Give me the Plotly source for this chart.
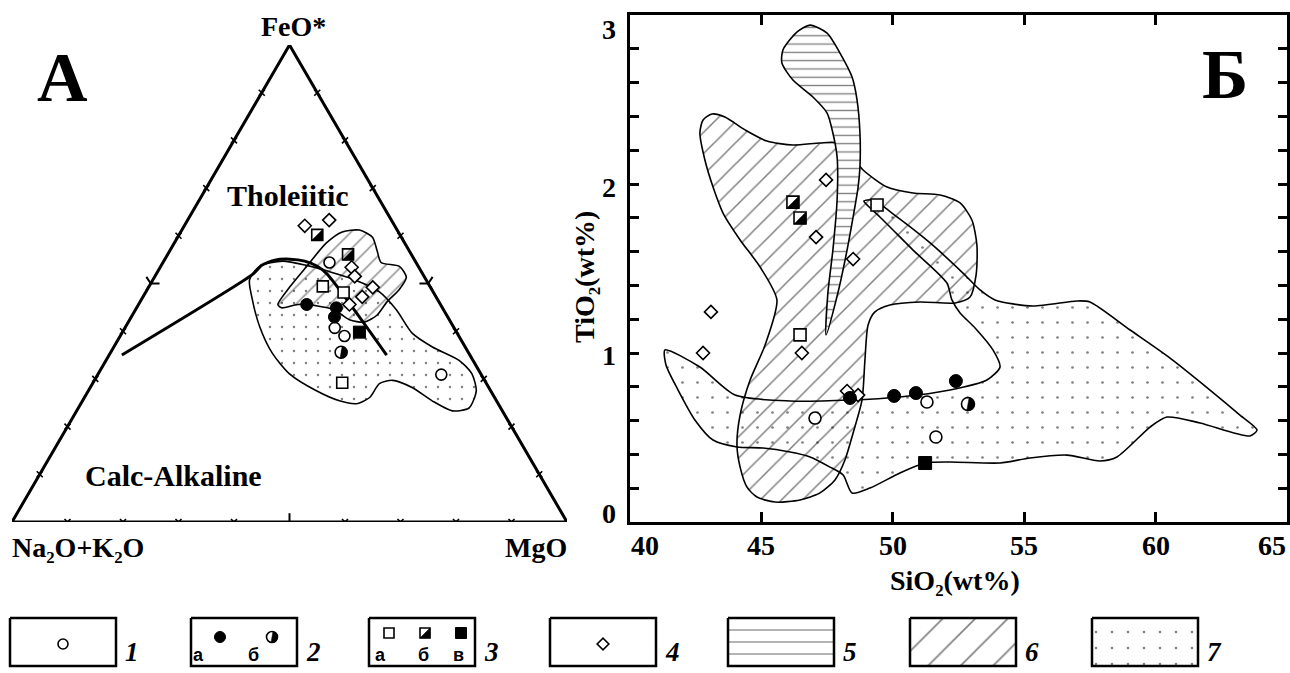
import math
import plotly.graph_objects as go

W, H = 1290, 673

# ============================ DATA ============================
# Panel A - AFM diagram, proportions (%) of FeO*, Na2O+K2O, MgO
afm1_feo = [54.4, 40.7, 39.0, 30.9]          # 1  open circles
afm1_alk = [15.6, 21.5, 20.6, 7.2]
afm1_mgo = [30.0, 37.8, 40.4, 61.9]
afm2a_feo = [45.6, 44.9, 43.0]               # 2a filled circles
afm2a_alk = [24.1, 19.1, 20.4]
afm2a_mgo = [30.3, 36.0, 36.6]
afm2b_feo = [35.6]                           # 2b half-filled circle
afm2b_alk = [22.9]
afm2b_mgo = [41.5]
afm3a_feo = [49.4, 48.1, 29.2]               # 3a open squares
afm3a_alk = [19.3, 16.2, 25.9]
afm3a_mgo = [31.3, 35.7, 44.9]
afm3b_feo = [60.2, 56.1]                     # 3b half-filled squares
afm3b_alk = [14.9, 11.4]
afm3b_mgo = [24.9, 32.5]
afm3v_feo = [39.8]                           # 3v filled square
afm3v_alk = [17.5]
afm3v_mgo = [42.7]
afm4_feo = [62.1, 63.3, 53.4, 51.5, 49.2, 47.2, 45.6]   # 4 diamonds
afm4_alk = [16.2, 11.2, 12.1, 12.5, 10.4, 13.3, 16.4]
afm4_mgo = [21.7, 25.5, 34.5, 36.0, 40.4, 39.5, 38.0]

# Tholeiitic / Calc-alkaline boundary
afm_bnd_feo = [35.0, 51.9, 53.8, 54.9, 55.1, 54.7, 53.6, 51.9, 35.0]
afm_bnd_alk = [62.7, 30.7, 28.1, 25.2, 22.4, 19.9, 18.2, 17.2, 15.0]
afm_bnd_mgo = [2.3, 17.4, 18.1, 19.9, 22.5, 25.4, 28.2, 30.9, 50.0]

# field 7 (dots) in AFM
afm7_feo = [50.8, 53.6, 54.7, 53.8, 52.5, 50.8, 48.3, 44.5, 39.6, 36.7, 33.9, 31.1, 27.5, 23.9,
            23.3, 25.4, 28.2, 29.7, 29.0, 26.1, 24.8, 25.4, 27.5, 31.1, 35.4, 40.9, 47.2]
afm7_alk = [31.8, 28.6, 23.9, 20.0, 16.6, 12.9, 9.7, 8.5, 8.1, 5.9, 2.5, 1.6, 2.6, 5.7,
            9.0, 11.6, 13.8, 16.6, 19.3, 22.5, 25.5, 28.3, 31.4, 34.5, 35.4, 34.9, 33.2]
afm7_mgo = [17.4, 17.8, 21.4, 26.2, 30.9, 36.3, 42.0, 47.0, 52.3, 57.4, 63.6, 67.3, 69.9, 70.4,
            67.7, 63.0, 58.0, 53.7, 51.7, 51.4, 49.7, 46.3, 41.1, 34.4, 29.2, 24.2, 19.6]
# field 6 (hatch) in AFM
afm6_feo = [45.6, 49.2, 53.6, 58.5, 60.8, 61.2, 59.7, 56.8, 54.4, 53.6, 51.3, 48.7, 46.2, 43.4,
            41.9, 42.4, 44.5, 45.3, 45.6, 44.9]
afm6_alk = [29.3, 25.4, 20.1, 14.1, 10.1, 6.8, 5.2, 5.8, 6.3, 3.4, 3.3, 5.9, 9.3, 12.5,
            15.6, 18.0, 19.7, 22.3, 25.7, 29.0]
afm6_mgo = [25.1, 25.4, 26.3, 27.4, 29.1, 32.0, 35.1, 37.4, 39.3, 43.0, 45.4, 45.4, 44.5, 44.1,
            42.5, 39.6, 35.8, 32.4, 28.7, 26.1]
afm_ticks = [0.1, 0.2, 0.3, 0.4, 0.5, 0.6, 0.7, 0.8, 0.9]

# Panel B - TiO2 vs SiO2 (wt%)
s1_si = [47.04, 51.30, 51.64]; s1_ti = [0.615, 0.710, 0.503]
s2a_si = [48.37, 50.05, 50.88, 52.40]; s2a_ti = [0.734, 0.746, 0.763, 0.834]
s2b_si = [52.86]; s2b_ti = [0.698]
s3a_si = [49.40, 46.47]; s3a_ti = [1.876, 1.107]
s3b_si = [46.20, 46.47]; s3b_ti = [1.893, 1.799]
s3v_si = [51.23]; s3v_ti = [0.349]
s4_si = [47.46, 47.08, 48.49, 43.08, 42.78, 46.54, 48.26, 48.68]
s4_ti = [2.024, 1.686, 1.556, 1.243, 1.000, 1.000, 0.775, 0.751]

f5_si = [46.85, 47.50, 47.99, 48.45, 48.64, 48.75, 48.75, 48.68, 48.49, 48.26, 47.91, 47.46,
         47.53, 47.72, 47.88, 47.88, 47.72, 47.50, 46.96, 46.20, 45.78, 45.82, 46.35]
f5_ti = [2.94, 2.893, 2.775, 2.633, 2.497, 2.302, 2.101, 1.982, 1.805, 1.609, 1.355, 1.107,
         1.355, 1.609, 1.905, 2.160, 2.302, 2.420, 2.515, 2.615, 2.716, 2.793, 2.899]
f6_si = [42.66, 42.78, 43.12, 43.61, 44.38, 45.21, 46.20, 47.23, 47.88, 48.37, 48.87, 49.78,
         50.77, 51.80, 52.56, 53.01, 53.20, 53.17, 52.94, 52.37, 51.04, 49.89, 49.32, 49.06,
         48.94, 48.83, 48.49, 48.18, 47.80, 47.23, 46.47, 45.52, 44.83, 44.45, 44.19, 44.07,
         44.19, 44.57, 45.14, 45.59, 44.95, 44.19, 43.54, 43.16, 42.85]
f6_ti = [2.302, 2.379, 2.414, 2.396, 2.320, 2.254, 2.231, 2.243, 2.243, 2.172, 2.083, 1.982,
         1.947, 1.935, 1.888, 1.787, 1.639, 1.462, 1.331, 1.296, 1.302, 1.284, 1.243, 1.166,
         0.959, 0.722, 0.527, 0.367, 0.249, 0.172, 0.130, 0.118, 0.148, 0.207, 0.325, 0.456,
         0.633, 0.840, 1.047, 1.314, 1.509, 1.669, 1.828, 1.982, 2.142]
f7_si = [41.33, 42.66, 44.00, 46.09, 48.37, 50.27, 52.18, 53.58, 54.08, 53.81, 53.13, 52.56,
         52.25, 52.06, 50.77, 49.51, 49.06, 48.90, 49.25, 50.16, 51.42, 52.67, 53.32, 53.89,
         55.33, 57.01, 57.50, 59.03, 60.55, 62.07, 63.21, 63.86, 63.59, 61.69, 60.43, 59.79,
         58.53, 57.88, 56.63, 55.22, 54.08, 52.18, 51.23, 50.27, 49.13, 48.45, 48.11, 47.61,
         46.85, 46.09, 45.06, 44.07, 43.16, 42.47, 41.83, 41.37]
f7_ti = [1.018, 0.917, 0.751, 0.716, 0.722, 0.740, 0.781, 0.840, 0.917, 1.018, 1.148, 1.237,
         1.314, 1.414, 1.609, 1.805, 1.870, 1.899, 1.905, 1.805, 1.651, 1.473, 1.373, 1.314,
         1.278, 1.308, 1.302, 1.136, 0.970, 0.781, 0.633, 0.544, 0.509, 0.586, 0.621, 0.562,
         0.385, 0.361, 0.396, 0.379, 0.349, 0.355, 0.349, 0.290, 0.201, 0.172, 0.278, 0.325,
         0.385, 0.414, 0.438, 0.444, 0.485, 0.604, 0.781, 0.929]

si_ticks = [40, 45, 50, 55, 60, 65]
ti_ticks = [0, 1, 2, 3]

legend_numbers = ["1", "2", "3", "4", "5", "6", "7"]
legend_letters = ["а", "б", "в"]

# ============================ GEOMETRY ============================
SERIF = "Liberation Serif"
TRI = dict(l=12, r=567, top=45, bot=522)          # AFM triangle, px
PB = dict(l=630, r=1287, top=15, bot=522)         # panel B plot area, px
SI_RANGE, TI_RANGE = [40, 65], [0, 3]


def afm_xy(feo, alk, mgo):
    xs, ys = [], []
    for f, a, m in zip(feo, alk, mgo):
        s = f + a + m
        xs.append((m + f / 2.0) / s)
        ys.append(f / s)
    return xs, ys


fig = go.Figure()
ann = []

OPEN = dict(color="white", line=dict(color="black", width=1.6))
FILLED = dict(color="black", line=dict(color="black", width=1))

# px per data unit for each frame (y positive = up)
SCALE = {
    "A": (TRI["r"] - TRI["l"], TRI["bot"] - TRI["top"]),
    "B": ((PB["r"] - PB["l"]) / (SI_RANGE[1] - SI_RANGE[0]), (PB["bot"] - PB["top"]) / (TI_RANGE[1] - TI_RANGE[0])),
    "L": (1.0, -1.0),
}
AXES = {"A": ("x", "y"), "B": ("x2", "y2"), "L": ("x3", "y3")}


def pts(x, y, symbol, size, style, frame):
    ax = AXES[frame]
    fig.add_trace(go.Scatter(x=x, y=y, mode="markers", xaxis=ax[0], yaxis=ax[1],
                             marker=dict(symbol=symbol, size=size, **style),
                             showlegend=False, hoverinfo="skip"))


def half_filled(x, y, kind, size, frame):
    """black half of a half-filled marker + its outline"""
    ux, uy = SCALE[frame]
    ax = AXES[frame]
    h = size / 2.0
    px, py = [], []
    for xv, yv in zip(x, y):
        if kind == "square":
            poly = [(-h, -h), (h, -h), (h, h)]
        else:
            poly = [(h * math.cos(math.radians(t)), h * math.sin(math.radians(t)))
                    for t in range(-100, 81, 10)]
        for dx, dy in poly + poly[:1]:
            px.append(xv + dx / ux)
            py.append(yv + dy / uy)
        px.append(None)
        py.append(None)
    fig.add_trace(go.Scatter(x=px, y=py, mode="lines", fill="toself", fillcolor="black",
                             line=dict(color="black", width=0.5), xaxis=ax[0], yaxis=ax[1],
                             showlegend=False, hoverinfo="skip"))
    pts(x, y, kind + "-open", size, dict(color="black", line=dict(color="black", width=1.6)), frame)


def region(x, y, shape, size, solidity, bg, frame, lw=1.6):
    ax = AXES[frame]
    fig.add_trace(go.Scatter(x=x + x[:1], y=y + y[:1], mode="lines", fill="toself",
                             xaxis=ax[0], yaxis=ax[1],
                             line=dict(color="black", width=lw, shape="spline", smoothing=0.7),
                             fillcolor=bg,
                             fillpattern=dict(shape=shape, fgcolor="black", bgcolor=bg,
                                              size=size, solidity=solidity),
                             showlegend=False, hoverinfo="skip"))


# ============================ PANEL A ============================
x7, y7 = afm_xy(afm7_feo, afm7_alk, afm7_mgo)
region(x7, y7, ".", 12, 0.032, "rgba(0,0,0,0)", "A")
x6, y6 = afm_xy(afm6_feo, afm6_alk, afm6_mgo)
region(x6, y6, "/", 12, 0.11, "rgba(0,0,0,0)", "A")

bx, by = afm_xy(afm_bnd_feo, afm_bnd_alk, afm_bnd_mgo)
fig.add_trace(go.Scatter(x=bx, y=by, mode="lines", xaxis="x", yaxis="y",
                         line=dict(color="black", width=3, shape="spline", smoothing=0.6),
                         showlegend=False, hoverinfo="skip"))

# triangle frame
tx, ty = afm_xy([100, 0, 0, 100], [0, 100, 0, 0], [0, 0, 100, 0])
fig.add_trace(go.Scatter(x=tx, y=ty, mode="lines", xaxis="x", yaxis="y",
                         line=dict(color="black", width=3), showlegend=False, hoverinfo="skip"))

# edge ticks (every 10 %)
small = [t for t in afm_ticks if t != 0.5]
for feo, alk, mgo in [([t * 100 for t in small], [100 - t * 100 for t in small], [0] * len(small)),
                      ([0] * len(small), [100 - t * 100 for t in small], [t * 100 for t in small]),
                      ([t * 100 for t in small], [0] * len(small), [100 - t * 100 for t in small])]:
    kx, ky = afm_xy(feo, alk, mgo)
    pts(kx, ky, "x-thin-open", 6, dict(color="black", line=dict(color="black", width=1.6)), "A")
for feo, alk, mgo, sym in [([50], [50], [0], "y-right-open"), ([0], [50], [50], "y-up-open"),
                           ([50], [0], [50], "y-left-open")]:
    kx, ky = afm_xy(feo, alk, mgo)
    pts(kx, ky, sym, 11, dict(color="black", line=dict(color="black", width=2)), "A")

# samples
px_, py_ = afm_xy(afm4_feo, afm4_alk, afm4_mgo); pts(px_, py_, "diamond", 10, OPEN, "A")
px_, py_ = afm_xy(afm3a_feo, afm3a_alk, afm3a_mgo); pts(px_, py_, "square", 11, OPEN, "A")
px_, py_ = afm_xy(afm1_feo, afm1_alk, afm1_mgo); pts(px_, py_, "circle", 11, OPEN, "A")
px_, py_ = afm_xy(afm2a_feo, afm2a_alk, afm2a_mgo); pts(px_, py_, "circle", 12, FILLED, "A")
px_, py_ = afm_xy(afm3v_feo, afm3v_alk, afm3v_mgo); pts(px_, py_, "square", 12, FILLED, "A")
px_, py_ = afm_xy(afm3b_feo, afm3b_alk, afm3b_mgo); half_filled(px_, py_, "square", 11, "A")
px_, py_ = afm_xy(afm2b_feo, afm2b_alk, afm2b_mgo); half_filled(px_, py_, "circle", 12, "A")

# ============================ PANEL B ============================
region(f7_si, f7_ti, ".", 15, 0.026, "rgba(0,0,0,0)", "B")
region(f6_si, f6_ti, "/", 15, 0.1, "rgba(0,0,0,0)", "B")
region(f5_si, f5_ti, "-", 8.3, 0.16, "white", "B")

pts(s4_si, s4_ti, "diamond", 10, OPEN, "B")
pts(s3a_si, s3a_ti, "square", 12, OPEN, "B")
pts(s1_si, s1_ti, "circle", 12, OPEN, "B")
pts(s2a_si, s2a_ti, "circle", 13, FILLED, "B")
pts(s3v_si, s3v_ti, "square", 13, FILLED, "B")
half_filled(s3b_si, s3b_ti, "square", 12, "B")
half_filled(s2b_si, s2b_ti, "circle", 13, "B")

# ============================ LEGEND (pixel frame) ============================
box_left = [10, 191, 369, 550, 728, 910, 1092]
box_w, box_top, box_bot = 106, 618, 666
patterns = {4: ("-", 12, 0.1), 5: ("/", 23, 0.07), 6: (".", 16, 0.02)}
for i, l in enumerate(box_left):
    xs = [l, l + box_w, l + box_w, l, l]
    ys = [box_top, box_top, box_bot, box_bot, box_top]
    if i in patterns:
        shp, sz, sol = patterns[i]
        fig.add_trace(go.Scatter(x=xs, y=ys, mode="lines", fill="toself", xaxis="x3", yaxis="y3",
                                 line=dict(color="black", width=2.5), fillcolor="white",
                                 fillpattern=dict(shape=shp, fgcolor="black", bgcolor="white",
                                                  size=sz, solidity=sol),
                                 showlegend=False, hoverinfo="skip"))
    else:
        fig.add_trace(go.Scatter(x=xs, y=ys, mode="lines", xaxis="x3", yaxis="y3",
                                 line=dict(color="black", width=2.5),
                                 showlegend=False, hoverinfo="skip"))

mid_y = (box_top + box_bot) / 2
pts([box_left[0] + box_w / 2], [mid_y + 2], "circle", 10, OPEN, "L")
pts([box_left[1] + 29], [mid_y - 5], "circle", 11, FILLED, "L")
half_filled([box_left[1] + 81], [mid_y - 5], "circle", 11, "L")
pts([box_left[2] + 20], [mid_y - 9], "square", 10, OPEN, "L")
half_filled([box_left[2] + 56], [mid_y - 9], "square", 10, "L")
pts([box_left[2] + 92], [mid_y - 9], "square", 11, FILLED, "L")
pts([box_left[3] + box_w / 2], [mid_y + 2], "diamond", 9, OPEN, "L")

for i, l in enumerate(box_left):
    ann.append(dict(x=l + box_w + 7, y=box_bot + 3, xref="x3", yref="y3",
                    text="<b><i>%s</i></b>" % legend_numbers[i],
                    showarrow=False, xanchor="left", yanchor="bottom",
                    font=dict(family=SERIF, size=27, color="black")))
for dx, letter in zip([7, 62], legend_letters[:2]):
    ann.append(dict(x=box_left[1] + dx, y=box_bot + 1, xref="x3", yref="y3", text="<b>%s</b>" % letter,
                    showarrow=False, xanchor="center", yanchor="bottom",
                    font=dict(family="Liberation Sans", size=18, color="black")))
for dx, letter in zip([11, 54, 89], legend_letters):
    ann.append(dict(x=box_left[2] + dx, y=box_bot + 1, xref="x3", yref="y3", text="<b>%s</b>" % letter,
                    showarrow=False, xanchor="center", yanchor="bottom",
                    font=dict(family="Liberation Sans", size=18, color="black")))


# ============================ TEXT ============================
def txt(x, y, s, size, xanchor="center", yanchor="middle", angle=0):
    ann.append(dict(x=x / W, y=1 - y / H, xref="paper", yref="paper", text=s, showarrow=False,
                    xanchor=xanchor, yanchor=yanchor, textangle=angle,
                    font=dict(family=SERIF, size=size, color="black")))


txt(62, 77, "<b>А</b>", 70)
txt(1225, 74, "<b>Б</b>", 70)
txt(293, 27, "<b>FeO*</b>", 28)
txt(288, 195, "<b>Tholeiitic</b>", 30)
txt(173, 475, "<b>Calc-Alkaline</b>", 30)
txt(10, 547, "<b>Na₂O+K₂O</b>", 28, xanchor="left")
txt(569, 547, "<b>MgO</b>", 28, xanchor="right")
txt(584, 277, "<b>TiO₂(wt%)</b>", 28, angle=-90)
txt(955, 580, "<b>SiO₂(wt%)</b>", 28)

# axis numbers
x_shift = {40: 15, 65: -15}
for v in si_ticks:
    ann.append(dict(x=v, y=1 - 545 / H, xref="x2", yref="paper", text="<b>%d</b>" % v, showarrow=False,
                    xanchor="center", yanchor="middle", xshift=x_shift.get(v, 0),
                    font=dict(family=SERIF, size=28, color="black")))
y_shift = {0: 9, 3: -14, 2: -3, 1: -2}
for v in ti_ticks:
    ann.append(dict(x=618 / W, y=v, xref="paper", yref="y2", text="<b>%d</b>" % v, showarrow=False,
                    xanchor="right", yanchor="middle", yshift=y_shift[v],
                    font=dict(family=SERIF, size=28, color="black")))

fig.update_layout(
    width=W, height=H, margin=dict(l=0, r=0, t=0, b=0),
    paper_bgcolor="white", plot_bgcolor="rgba(0,0,0,0)", showlegend=False,
    annotations=ann,
    xaxis=dict(domain=[TRI["l"] / W, TRI["r"] / W], range=[0, 1], visible=False, fixedrange=True),
    yaxis=dict(domain=[1 - TRI["bot"] / H, 1 - TRI["top"] / H], range=[0, 1], visible=False, fixedrange=True),
    xaxis2=dict(domain=[PB["l"] / W, PB["r"] / W], range=SI_RANGE, anchor="y2", showline=True, linewidth=3,
                linecolor="black", mirror="ticks", ticks="inside", ticklen=10, tickwidth=2.5,
                tickcolor="black", tickvals=si_ticks[1:-1], showticklabels=False,
                showgrid=False, zeroline=False, fixedrange=True),
    yaxis2=dict(domain=[1 - PB["bot"] / H, 1 - PB["top"] / H], range=TI_RANGE, anchor="x2", showline=True,
                linewidth=3, linecolor="black", mirror="ticks", ticks="inside", ticklen=9, tickwidth=2.5,
                tickcolor="black", tickvals=[round(0.2 * k, 1) for k in range(1, 15)],
                showticklabels=False, showgrid=False, zeroline=False, fixedrange=True),
    xaxis3=dict(domain=[0, 1], range=[0, W], anchor="y3", visible=False, fixedrange=True),
    yaxis3=dict(domain=[0, 1], range=[H, 0], anchor="x3", visible=False, fixedrange=True),
)

fig.write_html("out.html", config={"displayModeBar": False},
               post_script="document.body.style.margin='0px';document.body.style.overflow='hidden';")
